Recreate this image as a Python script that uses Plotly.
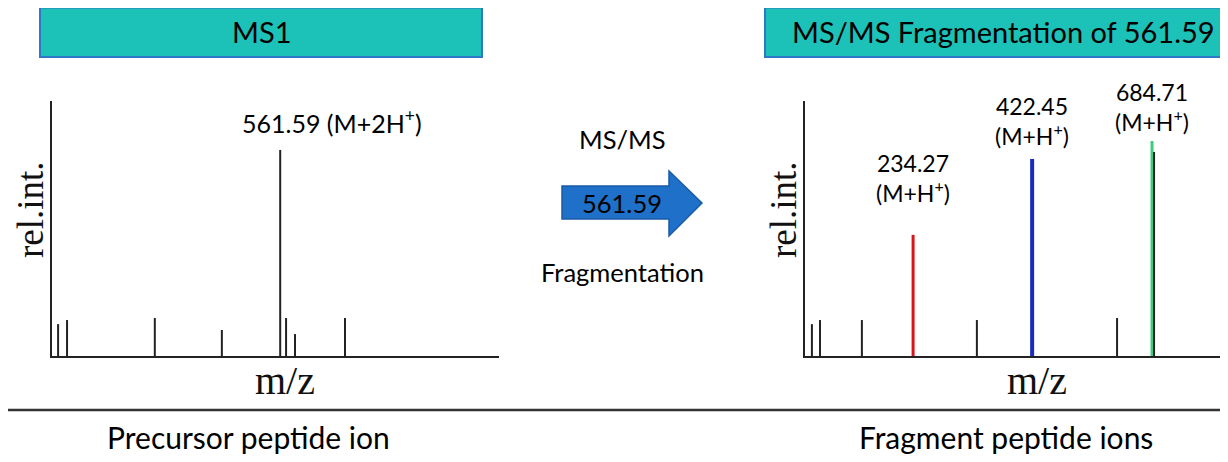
import plotly.graph_objects as go

# page body has an 8px margin, so the figure is drawn 8px smaller and offset
OFF = 8
W, H = 1228 - OFF, 462 - OFF

# ---- data (schematic m/z positions, relative intensities) ----
ms1_mz = [15, 37, 253, 418, 561.59, 576, 598, 721]
ms1_int = [12.5, 14.1, 14.9, 10.2, 80.8, 14.9, 8.6, 14.9]

ms2_mz_black = [17, 37, 140, 423, 768, 859]
ms2_int_black = [12.5, 14.1, 14.1, 14.1, 14.9, 80.0]

frag_mz = [266, 559, 854]
frag_int = [47.5, 77.3, 84.3]
frag_labels = ["234.27", "422.45", "684.71"]
frag_colors = ["#D7141B", "#1B2BC0", "#3DCB7E"]
frag_widths = [3, 4, 3]

precursor_label = "561.59 (M+2H<sup>+</sup>)"
header_left = "MS1"
header_right = "MS/MS Fragmentation of 561.59"
bottom_left = "Precursor peptide ion"
bottom_right = "Fragment peptide ions"


def px(x):
    return (x - OFF) / W


def py(y):
    return 1 - (y - OFF) / H


def stems(xs, ys):
    X, Y = [], []
    for x, y in zip(xs, ys):
        X += [x, x, None]
        Y += [0, y, None]
    return X, Y


fig = go.Figure()

# MS1 spectrum
X, Y = stems(ms1_mz, ms1_int)
fig.add_trace(go.Scatter(x=X, y=Y, mode="lines", line=dict(color="#222", width=2),
                         xaxis="x", yaxis="y", hoverinfo="skip"))

# MS2 fragments (colored)
for mz, it, c, w in zip(frag_mz, frag_int, frag_colors, frag_widths):
    X, Y = stems([mz], [it])
    fig.add_trace(go.Scatter(x=X, y=Y, mode="lines", line=dict(color=c, width=w),
                             xaxis="x2", yaxis="y2", hoverinfo="skip"))
# MS2 black peaks
X, Y = stems(ms2_mz_black, ms2_int_black)
fig.add_trace(go.Scatter(x=X, y=Y, mode="lines", line=dict(color="#222", width=2),
                         xaxis="x2", yaxis="y2", hoverinfo="skip"))

ydom = [py(356), py(101)]
axis_common = dict(showgrid=False, zeroline=False, showticklabels=False, ticks="",
                   showline=True, linecolor="#222", linewidth=2)

fig.update_layout(
    width=W, height=H,
    margin=dict(l=0, r=0, t=0, b=0),
    paper_bgcolor="white", plot_bgcolor="white",
    showlegend=False,
    xaxis=dict(domain=[px(52), px(499)], range=[0, 1100], anchor="y", **axis_common),
    yaxis=dict(domain=ydom, range=[0, 100], anchor="x", **axis_common),
    xaxis2=dict(domain=[px(805), 1.0], range=[0, 1041], anchor="y2", **axis_common),
    yaxis2=dict(domain=ydom, range=[0, 100], anchor="x2", **axis_common),
)

# header boxes
teal = "#1CC1B7"
border = "#2F78C8"
fig.add_shape(type="rect", xref="paper", yref="paper", x0=px(40), x1=px(482), y0=py(57), y1=py(7.5),
              fillcolor=teal, line=dict(color=border, width=2))
fig.add_shape(type="rect", xref="paper", yref="paper", x0=px(765), x1=px(1240), y0=py(57), y1=py(7.5),
              fillcolor=teal, line=dict(color=border, width=2))

# arrow
pts = [(562, 186), (669, 186), (669, 171), (702, 203), (669, 236), (669, 219), (562, 219)]
path = "M " + " L ".join(f"{px(x):.5f},{py(y):.5f}" for x, y in pts) + " Z"
fig.add_shape(type="path", xref="paper", yref="paper", path=path,
              fillcolor="#1F70C9", line=dict(color="#1A5BA6", width=1.5))

# separator line
fig.add_shape(type="line", xref="paper", yref="paper", x0=px(3), x1=1.0, y0=py(410), y1=py(410),
              line=dict(color="#333", width=2.5))

sans = "Lato"
serif = "Liberation Serif"


def ann(text, x, y, size, family=sans, xref="paper", yref="paper", angle=0, color="#000"):
    fig.add_annotation(text=text, x=x, y=y, xref=xref, yref=yref, showarrow=False,
                       xanchor="center", yanchor="middle", textangle=angle,
                       font=dict(family=family, size=size, color=color))


ann(header_left, px(261), py(32), 29)
ann(header_right, px(1004), py(32), 29)

ann("MS/MS", px(622), py(139), 25.5)
ann("561.59", px(622), py(203), 25.5)
ann("Fragmentation", px(622), py(272), 25.5)

ann(bottom_left, px(248), py(437), 30)
ann(bottom_right, px(1006), py(437), 30)

# axis labels
ann("rel.int.", px(30), py(210), 37, family=serif, angle=-90, color="#111")
ann("m/z", px(285), py(380), 40, family=serif, color="#111")
ann("rel.int.", px(783), py(210), 37, family=serif, angle=-90, color="#111")
ann("m/z", px(1037), py(380), 40, family=serif, color="#111")

# peak labels (data coords)
ann(precursor_label, 689, 91.8, 25, xref="x", yref="y")
label_y = [70, 92, 97.8]
for mz, lab, ly in zip(frag_mz, frag_labels, label_y):
    ann(f"{lab}<br>(M+H<sup>+</sup>)", mz, ly, 23, xref="x2", yref="y2")

fig.write_html("out.html")
